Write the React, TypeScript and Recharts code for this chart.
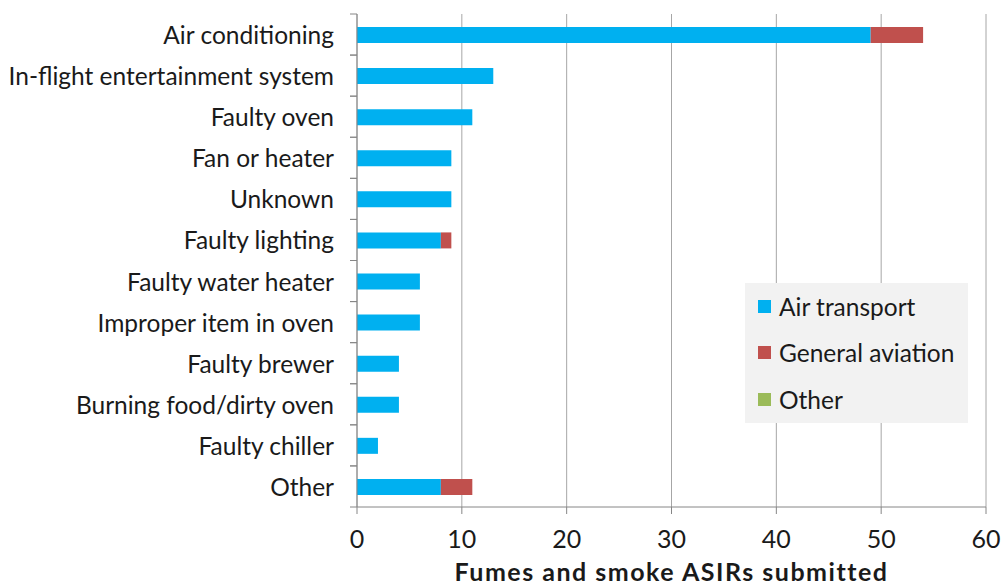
import React from 'react';
import { BarChart, Bar, XAxis, YAxis, CartesianGrid, Legend } from 'recharts';

const categories = [
  'Air conditioning',
  'In-flight entertainment system',
  'Faulty oven',
  'Fan or heater',
  'Unknown',
  'Faulty lighting',
  'Faulty water heater',
  'Improper item in oven',
  'Faulty brewer',
  'Burning food/dirty oven',
  'Faulty chiller',
  'Other',
];
const airTransport = [49, 13, 11, 9, 9, 8, 6, 6, 4, 4, 2, 8];
const generalAviation = [5, 0, 0, 0, 0, 1, 0, 0, 0, 0, 0, 3];
const otherSeries = [0, 0, 0, 0, 0, 0, 0, 0, 0, 0, 0, 0];
const xTicks = [0, 10, 20, 30, 40, 50, 60];

const data = categories.map((name, i) => ({
  name,
  air: airTransport[i],
  ga: generalAviation[i],
  other: otherSeries[i],
}));

const W = 1001;
const H = 587;
const M = { top: 14, right: 15, bottom: 0, left: 0 };
const YW = 357;
const XH = 80;
const BAND = (H - M.top - M.bottom - XH) / categories.length;
const FONT = 'Lato, "Open Sans", sans-serif';
const AXIS = '#868686';
const TXT = '#1a1a1a';

const YTick = (props: any) => {
  const { x, y, payload } = props;
  const ax = x + 8;
  return (
    <g>
      <text x={ax - 23} y={y} textAnchor="end" dominantBaseline="central" fontSize={24.5} fill={TXT} fontFamily={FONT}>
        {payload.value}
      </text>
      <line x1={ax - 7} x2={ax} y1={y - BAND / 2} y2={y - BAND / 2} stroke={AXIS} />
      <line x1={ax - 7} x2={ax} y1={y + BAND / 2} y2={y + BAND / 2} stroke={AXIS} />
    </g>
  );
};

const renderLegend = (props: any) => {
  const { payload } = props;
  return (
    <div style={{ background: '#F2F2F2', width: 223, height: 140, boxSizing: 'border-box', paddingTop: 0, paddingLeft: 13, fontFamily: FONT }}>
      {payload.map((p: any) => (
        <div key={p.value} style={{ display: 'flex', alignItems: 'center', height: 46.5, fontSize: 24.5, color: TXT, whiteSpace: 'nowrap' }}>
          <span style={{ display: 'inline-block', width: 13, height: 13, background: p.color, marginRight: 8, flex: 'none' }} />
          <span>{p.value}</span>
        </div>
      ))}
    </div>
  );
};

export default function App() {
  return (
    <div style={{ position: 'absolute', left: 0, top: 0, width: W, height: H, background: '#fff', fontFamily: FONT }}>
      <BarChart width={W} height={H} data={data} layout="vertical" margin={M} barSize={16}>
        <CartesianGrid horizontal={false} stroke="#A6A6A6" />
        <XAxis
          type="number"
          domain={[0, 60]}
          ticks={xTicks}
          interval={0}
          height={XH}
          stroke={AXIS}
          tickSize={7}
          tickMargin={16}
          tick={{ fontSize: 25, fill: TXT, fontFamily: FONT }}
          label={{ value: 'Fumes and smoke ASIRs submitted', position: 'insideBottom', offset: 6, fontSize: 25, fontWeight: 'bold', letterSpacing: 1.5, fill: TXT, fontFamily: FONT }}
        />
        <YAxis
          type="category"
          dataKey="name"
          width={YW}
          stroke={AXIS}
          tickLine={false}
          interval={0}
          tick={<YTick />}
        />
        <Legend
          layout="vertical"
          align="center"
          verticalAlign="middle"
          content={renderLegend}
          wrapperStyle={{ position: 'absolute', left: 745, top: 283, width: 223, height: 140 }}
        />
        <Bar dataKey="air" name="Air transport" stackId="a" fill="#00B0F0" isAnimationActive={false} />
        <Bar dataKey="ga" name="General aviation" stackId="a" fill="#C0504D" isAnimationActive={false} />
        <Bar dataKey="other" name="Other" stackId="a" fill="#9BBB59" isAnimationActive={false} />
      </BarChart>
    </div>
  );
}
